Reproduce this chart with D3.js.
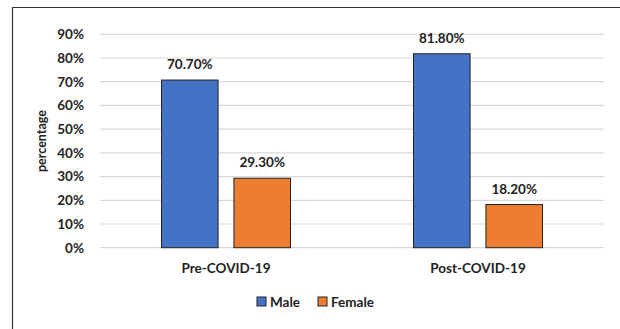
<!DOCTYPE html>
<html>
<head>
<meta charset="utf-8">
<script src="https://cdn.jsdelivr.net/npm/d3@7/dist/d3.min.js"></script>
<style>
  html, body { margin: 0; padding: 0; background: #fff; }
  svg { display: block; }
  text { font-family: Lato, "Open Sans", sans-serif; font-weight: 700; fill: #222; }
</style>
</head>
<body>
<svg id="chart" width="620" height="329"></svg>
<script>
const periods = ["Pre-COVID-19", "Post-COVID-19"];
const periodLabels = ["Pre-COVID-19", "Post-COVID-19"];
const genders = ["Male", "Female"];
const male = [70.7, 81.8];
const female = [29.3, 18.2];
const yTicks = [0, 10, 20, 30, 40, 50, 60, 70, 80, 90];
const colors = ["#4472C4", "#ED7D31"];

const svg = d3.select("#chart");
const W = 620, H = 329;

// frame around the chart area
svg.append("path")
  .attr("d", `M12.5,${H} L12.5,7.5 L${W},7.5`)
  .attr("fill", "none").attr("stroke", "#333").attr("stroke-width", 1.2);

const plot = { left: 100, right: 604, top: 34.3, bottom: 247.7 };

const y = d3.scaleLinear().domain([0, 90]).range([plot.bottom, plot.top]);
const x0 = d3.scaleBand().domain(periods).range([plot.left, plot.right]).paddingInner(0).paddingOuter(0);
const x1 = d3.scaleBand().domain(genders).range([61.5, 190.5]).paddingInner(0.219);

// gridlines
svg.append("g").selectAll("line").data(yTicks).join("line")
  .attr("x1", plot.left).attr("x2", plot.right)
  .attr("y1", d => y(d)).attr("y2", d => y(d))
  .attr("stroke", "#d9d9d9").attr("stroke-width", 1.2);

// y axis labels
const yAxis = d3.axisLeft(y).tickValues(yTicks).tickFormat(d => d + "%").tickSize(0).tickPadding(0);
const yg = svg.append("g").attr("transform", "translate(84,0)").call(yAxis);
yg.select(".domain").remove();
yg.selectAll("text").style("font-size", "13.5px").attr("fill", "#222")
  .style("font-family", "Lato, sans-serif").style("font-weight", "700");

// y axis title
svg.append("text")
  .attr("transform", `translate(46,${(plot.top + plot.bottom) / 2}) rotate(-90)`)
  .attr("text-anchor", "middle")
  .style("font-size", "12.5px")
  .text("percentage");

// bars
const rows = periods.map((p, i) => ({ period: p, values: [male[i], female[i]] }));
const groups = svg.append("g").selectAll("g").data(rows).join("g")
  .attr("transform", d => `translate(${x0(d.period)},0)`);

groups.selectAll("rect").data(d => d.values.map((v, j) => ({ g: genders[j], v, j }))).join("rect")
  .attr("x", d => x1(d.g))
  .attr("width", x1.bandwidth())
  .attr("y", d => y(d.v))
  .attr("height", d => y(0) - y(d.v))
  .attr("fill", d => colors[d.j])
  .attr("stroke", "#222").attr("stroke-width", 1);

groups.selectAll("text.val").data(d => d.values.map((v, j) => ({ g: genders[j], v }))).join("text")
  .attr("class", "val")
  .attr("x", d => x1(d.g) + x1.bandwidth() / 2)
  .attr("y", d => y(d.v) - 11)
  .attr("text-anchor", "middle")
  .style("font-size", "13.5px")
  .text(d => d.v.toFixed(2) + "%");

// category labels
svg.append("g").selectAll("text").data(periods).join("text")
  .attr("x", d => x0(d) + x0.bandwidth() / 2)
  .attr("y", 273)
  .attr("text-anchor", "middle")
  .style("font-size", "13.5px")
  .text((d, i) => periodLabels[i]);

// legend
const legend = svg.append("g").attr("transform", "translate(257,302)");
const legendX = [0, 61];
genders.forEach((g, i) => {
  legend.append("rect")
    .attr("x", legendX[i]).attr("y", -5).attr("width", 9).attr("height", 9)
    .attr("fill", colors[i]).attr("stroke", "#222").attr("stroke-width", 1);
  legend.append("text")
    .attr("x", legendX[i] + 13).attr("y", 5)
    .style("font-size", "13.5px")
    .text(g);
});
</script>
</body>
</html>
